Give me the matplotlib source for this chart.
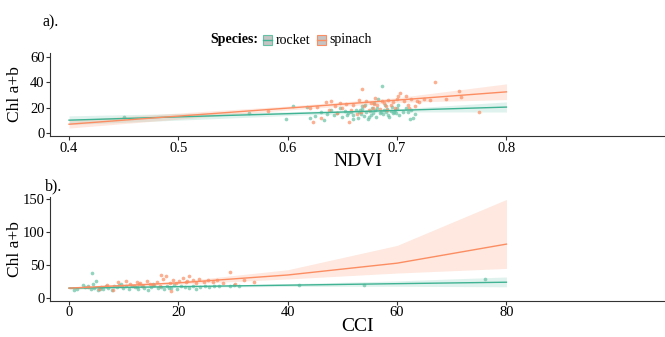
import matplotlib.pyplot as plt
import numpy as np
from matplotlib.patches import Rectangle
from matplotlib.lines import Line2D

plt.rcParams['font.family'] = ['Liberation Serif', 'DejaVu Serif']

species = ['rocket', 'spinach']
colors = {'rocket': '#66c2a5', 'spinach': '#fc8d62'}
line_colors = {'rocket': '#3fb393', 'spinach': '#fc8d62'}

# NDVI panel: fitted lines and confidence bands
ndvi_grid = [0.4, 0.5, 0.6, 0.7, 0.8]
ndvi_fit = {'rocket': [10.2, 12.8, 15.3, 17.9, 20.5],
            'spinach': [7.0, 13.4, 19.7, 26.0, 32.5]}
ndvi_lo = {'rocket': [6.8, 10.2, 13.8, 16.7, 16.6],
           'spinach': [4.0, 11.0, 18.2, 24.2, 26.4]}
ndvi_hi = {'rocket': [13.6, 15.4, 16.8, 19.1, 24.6],
           'spinach': [10.2, 15.8, 21.3, 27.9, 38.8]}

# NDVI panel: observations
rocket_ndvi = [0.45, 0.565, 0.598, 0.605, 0.618, 0.62, 0.625, 0.63, 0.633, 0.636,
               0.64, 0.642, 0.645, 0.648, 0.65, 0.652, 0.655, 0.658, 0.66, 0.662,
               0.664, 0.665, 0.667, 0.668, 0.67, 0.671, 0.672, 0.673, 0.675, 0.676,
               0.677, 0.678, 0.68, 0.681, 0.682, 0.683, 0.685, 0.686, 0.687, 0.688,
               0.69, 0.691, 0.692, 0.694, 0.695, 0.696, 0.698, 0.699, 0.70, 0.702,
               0.705, 0.708, 0.71, 0.712, 0.713, 0.715, 0.716, 0.668, 0.674, 0.679,
               0.684, 0.689, 0.693, 0.66, 0.654, 0.666, 0.697, 0.701]
rocket_chl_n = [12.5, 16.0, 11.0, 21.5, 20.5, 12.0, 13.5, 17.0, 10.5, 15.0,
                18.5, 14.0, 16.0, 19.5, 13.0, 17.5, 15.5, 16.5, 14.0, 18.0,
                12.0, 17.0, 15.0, 19.0, 13.5, 22.0, 16.5, 11.0, 17.5, 14.5,
                20.0, 16.0, 18.5, 13.0, 19.5, 26.5, 17.0, 37.5, 15.0, 18.0,
                16.5, 19.0, 14.0, 17.5, 20.5, 15.5, 18.0, 16.0, 19.5, 14.5,
                17.0, 20.0, 16.5, 11.0, 18.5, 12.0, 15.0, 21.0, 13.0, 24.0,
                15.5, 22.5, 12.5, 11.5, 14.0, 18.0, 17.0, 22.0]
spinach_ndvi = [0.582, 0.62, 0.623, 0.627, 0.63, 0.635, 0.638, 0.64, 0.643, 0.645,
                0.648, 0.65, 0.653, 0.656, 0.658, 0.66, 0.663, 0.665, 0.668, 0.67,
                0.672, 0.674, 0.676, 0.678, 0.68, 0.682, 0.684, 0.686, 0.688, 0.69,
                0.692, 0.694, 0.696, 0.698, 0.70, 0.703, 0.706, 0.708, 0.71, 0.713,
                0.716, 0.718, 0.72, 0.725, 0.73, 0.735, 0.745, 0.757, 0.758, 0.775,
                0.667, 0.679, 0.691, 0.701, 0.711]
spinach_chl_n = [17.5, 20.0, 9.0, 20.5, 12.0, 24.5, 18.0, 25.0, 21.0, 15.5,
                 24.0, 19.5, 23.0, 9.0, 18.0, 22.0, 15.0, 26.0, 34.5, 21.5,
                 25.0, 18.5, 24.0, 20.0, 27.5, 22.0, 19.0, 25.5, 23.5, 21.0,
                 26.0, 22.5, 24.5, 20.0, 27.0, 31.5, 25.0, 29.5, 22.5, 27.0,
                 21.5, 25.5, 24.5, 27.0, 26.0, 40.0, 27.0, 33.5, 28.5, 16.5,
                 17.0, 23.0, 18.5, 29.0, 20.0]

# CCI panel: fitted lines and confidence bands
cci_grid = [0, 20, 40, 60, 80]
cci_fit = {'rocket': [15.0, 17.3, 19.5, 21.8, 24.0],
           'spinach': [15.0, 23.0, 35.0, 53.0, 82.0]}
cci_lo = {'rocket': [13.5, 16.3, 17.5, 17.8, 17.0],
          'spinach': [13.2, 21.0, 29.0, 38.0, 45.0]}
cci_hi = {'rocket': [16.5, 18.3, 21.8, 26.0, 32.0],
          'spinach': [17.0, 25.2, 43.0, 80.0, 150.0]}

# CCI panel: observations
rocket_cci = [1.0, 1.5, 2.5, 3.0, 3.5, 4.0, 4.2, 4.5, 5.0, 5.3, 5.8, 6.2, 6.8, 7.2,
              7.8, 8.3, 8.8, 9.2, 9.8, 10.4, 11.0, 11.5, 12.1, 12.7, 13.3, 13.8,
              14.4, 15.0, 15.6, 16.2, 16.8, 17.4, 18.0, 18.6, 19.2, 19.8, 20.5,
              21.2, 21.9, 22.6, 23.3, 24.0, 24.8, 25.6, 26.5, 27.5, 29.5, 30.2,
              31.0, 42.0, 54.0, 76.0, 4.4, 5.6, 9.5, 12.4, 15.3, 18.3]
rocket_chl_c = [12.5, 14.0, 20.0, 16.5, 18.0, 13.0, 38.0, 15.0, 26.0, 11.5, 17.0,
                14.0, 19.0, 15.5, 12.5, 18.0, 16.0, 20.5, 14.5, 17.5, 13.0, 19.0,
                16.0, 14.0, 18.5, 15.5, 12.0, 17.0, 19.5, 14.5, 16.5, 13.0, 18.0,
                15.5, 20.0, 14.0, 17.5, 16.0, 15.0, 18.5, 14.0, 16.5, 19.0, 17.0,
                18.0, 17.5, 19.0, 19.5, 19.0, 20.5, 20.0, 29.0, 21.0, 13.0,
                21.5, 17.0, 22.0, 15.0]
spinach_cci = [3.5, 5.5, 7.0, 8.0, 9.0, 9.7, 10.5, 11.2, 11.8, 12.4, 13.0, 13.6,
               14.2, 14.8, 15.4, 16.0, 16.6, 17.2, 17.8, 18.4, 19.0, 19.6, 20.2,
               20.8, 21.4, 22.0, 22.6, 23.2, 23.8, 24.6, 25.4, 26.4, 27.0, 28.2,
               29.5, 30.3, 32.0, 33.8, 18.6, 16.9, 12.8, 21.6]
spinach_chl_c = [17.0, 13.0, 20.0, 12.0, 24.0, 18.0, 25.5, 21.0, 19.0, 24.5, 23.0,
                 17.5, 26.0, 22.0, 20.0, 24.0, 19.0, 29.5, 33.0, 22.5, 28.0, 23.0,
                 26.0, 30.0, 24.0, 33.5, 27.0, 23.5, 29.0, 25.0, 27.5, 25.0, 28.0,
                 22.5, 40.0, 21.0, 27.5, 24.0, 10.5, 35.0, 21.5, 26.5]

W, H = 665, 337
fig = plt.figure(figsize=(W / 100, H / 100), dpi=100)
ax1 = fig.add_axes([50 / W, 0.596, 1 - 50 / W, 0.247])
ax2 = fig.add_axes([50 / W, 0.107, 1 - 50 / W, 0.309])

pts = {'rocket': ((rocket_ndvi, rocket_chl_n), (rocket_cci, rocket_chl_c)),
       'spinach': ((spinach_ndvi, spinach_chl_n), (spinach_cci, spinach_chl_c))}

for sp in species:
    c = colors[sp]
    ax1.fill_between(ndvi_grid, ndvi_lo[sp], ndvi_hi[sp], color=c, alpha=0.2, lw=0)
    ax1.plot(ndvi_grid, ndvi_fit[sp], color=line_colors[sp], lw=1)
    ax1.scatter(*pts[sp][0], s=7, color=c, alpha=0.7, lw=0)
    ax2.fill_between(cci_grid, cci_lo[sp], cci_hi[sp], color=c, alpha=0.2, lw=0)
    ax2.plot(cci_grid, cci_fit[sp], color=line_colors[sp], lw=1)
    ax2.scatter(*pts[sp][1], s=7, color=c, alpha=0.7, lw=0)

ax1.set_xlim(0.3826, 0.945)
ax1.set_ylim(-2.4, 63.2)
ax1.set_xticks([0.4, 0.5, 0.6, 0.7, 0.8])
ax1.set_xticklabels(['0.4', '0.5', '0.6', '0.7', '0.8'])
ax1.set_yticks([0, 20, 40, 60])
ax1.set_xlabel('NDVI', fontsize=14, labelpad=-1)

ax2.set_xlim(-3.48, 109)
ax2.set_ylim(-4.5, 154)
ax2.set_xticks([0, 20, 40, 60, 80])
ax2.set_yticks([0, 50, 100, 150])
ax2.set_xlabel('CCI', fontsize=14, labelpad=-1)

for ax in (ax1, ax2):
    ax.spines['top'].set_visible(False)
    ax.spines['right'].set_visible(False)
    ax.spines['left'].set_color('#333333')
    ax.spines['bottom'].set_color('#333333')
    ax.tick_params(labelsize=10.5, length=3, width=0.8, pad=1,
                   colors='#333333', labelcolor='black')
    ax.set_ylabel('Chl a+b', fontsize=12.5)
    ax.yaxis.set_label_coords(-27 / (W - 50), 0.5)

fig.text(0.064, 0.935, 'a).', fontsize=11.5, va='center')
fig.text(0.067, 0.448, 'b).', fontsize=11.5, va='center')

# legend drawn along the top, laid out left to right by measuring text widths
ly = 1 - 40 / H
r = fig.canvas.get_renderer()
x = 210
t = fig.text(x / W, ly, 'Species:', fontsize=10, fontweight='bold', va='center')
x += t.get_window_extent(r).width + 5
for sp in species:
    fig.add_artist(Rectangle((x / W, ly - 0.016), 9 / W, 0.032, transform=fig.transFigure,
                             facecolor='#c4c4c4', edgecolor=colors[sp], lw=0.8))
    fig.add_artist(Line2D([x / W, (x + 9) / W], [ly, ly], transform=fig.transFigure,
                          color=line_colors[sp], lw=1))
    x += 13
    t = fig.text(x / W, ly, sp, fontsize=10, va='center')
    x += t.get_window_extent(r).width + 6

fig.savefig('out.png', dpi=100)
